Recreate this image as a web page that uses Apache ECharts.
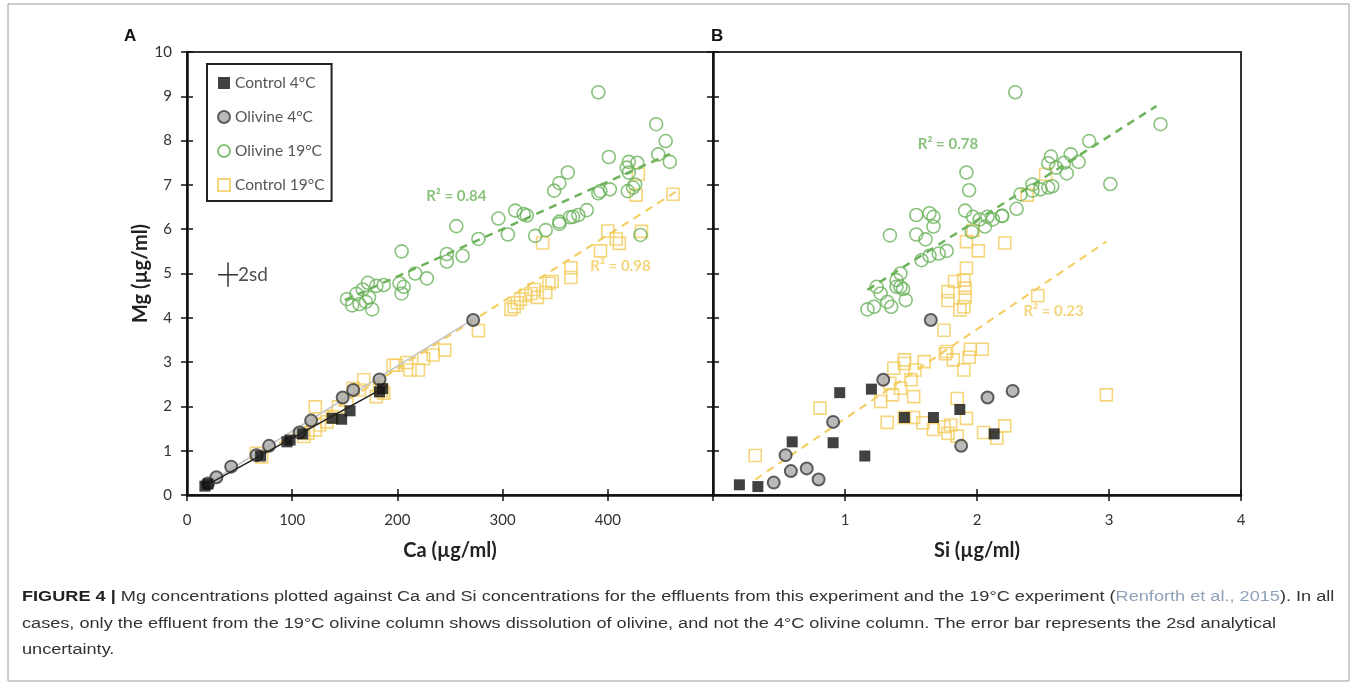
<!DOCTYPE html>
<html>
<head>
<meta charset="utf-8">
<script src="https://cdn.jsdelivr.net/npm/echarts@6/dist/echarts.min.js"></script>
<style>
  html, body { margin: 0; padding: 0; background: #fff; }
  #main { width: 1357px; height: 687px; }
</style>
</head>
<body>
<div id="main"></div>
<script>
// Panel A: Mg vs Ca  [Ca, Mg]
var caOlivine19 = [[391,9.09],[446,8.37],[455,7.99],[401,7.63],[448,7.69],[459,7.52],[420,7.52],[428,7.50],[418,7.39],[420,7.28],
  [426,7.01],[424,6.94],[419,6.86],[402,6.90],[391,6.81],[393,6.86],[362,7.28],[354,7.04],[349,6.87],[380,6.43],
  [372,6.32],[367,6.28],[364,6.27],[354,6.17],[354,6.12],[341,5.98],[331,5.85],[431,5.87],[320,6.34],[312,6.42],
  [323,6.31],[296,6.24],[305,5.88],[277,5.78],[256,6.07],[247,5.44],[262,5.40],[247,5.27],[204,5.50],[217,5.00],
  [228,4.89],[206,4.70],[204,4.55],[202,4.78],[187,4.74],[180,4.72],[172,4.79],[167,4.64],[161,4.54],[152,4.42],
  [157,4.28],[164,4.31],[170,4.36],[176,4.19],[173,4.46]];
var caControl19 = [[462,6.79],[429,7.24],[427,6.77],[432,5.95],[400,5.96],[408,5.78],[411,5.68],[393,5.51],[338,5.69],[365,5.13],
  [365,4.91],[347,4.82],[344,4.78],[341,4.57],[330,4.64],[327,4.55],[322,4.51],[333,4.46],[317,4.42],[314,4.34],
  [311,4.25],[308,4.19],[277,3.71],[245,3.27],[234,3.16],[225,3.08],[220,2.82],[212,2.82],[209,2.99],[199,2.93],
  [196,2.93],[168,2.60],[158,2.41],[187,2.30],[180,2.22],[122,1.99],[138,1.77],[133,1.65],[126,1.58],[122,1.47],
  [115,1.39],[111,1.32],[144,1.99],[152,2.14],[164,2.37],[71,0.86],[66,0.94],[185,2.35],[183,2.42]];
var caControl4 = [[17,0.20],[20,0.25],[70,0.88],[95,1.20],[98,1.24],[110,1.38],[138,1.73],[147,1.71],[155,1.90],[183,2.33],[186,2.40]];
var caOlivine4 = [[20,0.26],[28,0.40],[42,0.64],[66,0.90],[78,1.11],[107,1.41],[118,1.68],[148,2.20],[158,2.37],[183,2.61],[272,3.95]];

// trend lines panel A (end points)
var caFitOlivine19 = [[150,4.4],[459,7.7]];
var caFitControl19 = [[65,0.82],[465,6.85]];
var caFitOlivine4 = [[17,0.22],[272,3.97]];
var caFitControl4 = [[17,0.2],[187,2.42]];

// Panel B: Mg vs Si  [Si, Mg]
var siOlivine19 = [[2.29,9.09],[1.92,7.28],[1.94,6.88],[1.91,6.42],[1.54,6.32],[1.64,6.36],[1.67,6.28],[1.67,6.06],[1.34,5.86],[1.54,5.88],
  [1.61,5.77],[1.97,6.28],[2.02,6.22],[2.08,6.28],[2.12,6.22],[2.19,6.30],[2.06,6.06],[1.96,5.94],[1.77,5.51],[1.71,5.45],
  [1.64,5.40],[1.58,5.30],[1.42,5.00],[1.39,4.85],[1.42,4.70],[1.44,4.65],[1.39,4.70],[1.24,4.70],[1.27,4.55],[1.32,4.36],
  [1.35,4.25],[1.46,4.40],[1.22,4.25],[1.17,4.19],[3.39,8.37],[2.85,7.99],[2.71,7.69],[2.56,7.64],[2.77,7.52],[2.66,7.50],
  [2.54,7.49],[2.60,7.39],[2.68,7.26],[3.01,7.02],[2.57,6.97],[2.54,6.94],[2.48,6.90],[2.42,7.01],[2.42,6.87],[2.33,6.79],
  [2.30,6.46],[2.19,6.30]];
var siControl19 = [[1.97,5.97],[1.92,5.72],[2.01,5.51],[2.21,5.69],[1.92,5.12],[1.83,4.82],[1.90,4.85],[1.91,4.67],[1.78,4.59],[1.91,4.46],
  [1.78,4.39],[1.90,4.25],[1.87,4.18],[1.75,3.72],[2.52,7.24],[2.38,6.77],[2.46,4.50],[1.77,3.24],[1.76,3.19],[1.82,3.05],
  [1.95,3.29],[2.04,3.29],[1.94,3.11],[1.90,2.82],[1.60,3.01],[1.53,2.82],[1.45,3.05],[1.45,2.97],[1.37,2.86],[1.50,2.60],
  [1.42,2.41],[1.36,2.26],[1.27,2.11],[1.34,2.52],[1.52,2.22],[1.85,2.18],[1.92,1.73],[1.52,1.75],[1.59,1.63],[1.67,1.48],
  [1.75,1.54],[1.80,1.58],[1.78,1.39],[1.85,1.33],[1.32,1.64],[1.45,1.75],[0.81,1.96],[0.32,0.89],[2.05,1.41],[2.15,1.28],
  [2.21,1.56],[2.98,2.26]];
var siControl4 = [[0.20,0.23],[0.34,0.19],[0.60,1.20],[0.91,1.18],[0.96,2.31],[1.15,0.88],[1.20,2.39],[1.45,1.75],[1.67,1.75],[1.87,1.93],[2.13,1.38]];
var siOlivine4 = [[0.46,0.28],[0.55,0.90],[0.59,0.54],[0.71,0.60],[0.80,0.35],[0.91,1.65],[1.29,2.60],[1.65,3.95],[2.08,2.20],[2.27,2.35],[1.88,1.11]];

var siFitOlivine19 = [[1.17,4.63],[3.36,8.78]];
var siFitControl19 = [[0.32,0.35],[2.98,5.72]];

// 2sd error bar (Ca, Mg)
var errH = [[29.5,4.97],[48.5,4.97]];
var errV = [[39,4.70],[39,5.25]];

var seriesNames = ['Control 4°C', 'Olivine 4°C', 'Olivine 19°C', 'Control 19°C'];
var r2A = ['R² = 0.84', 'R² = 0.98'];
var r2B = ['R² = 0.78', 'R² = 0.23'];

var GREEN = '#6cb35c', YELLOW = '#f3cc5c', BLACK = '#111', GREY = '#a9a9a9';
var tickFont = { fontFamily: 'Lato', fontSize: 15, color: '#333' };
var titleFont = { fontFamily: 'Lato', fontSize: 20, fontWeight: 'bold', color: '#222' };

var chart = echarts.init(document.getElementById('main'));

function mkX(grid, max, outer, fmt) {
  return {
    type: 'value', gridIndex: grid, min: 0, max: max, interval: max > 10 ? 100 : 1,
    axisLine: { show: outer, lineStyle: { color: '#111', width: 2.5 } },
    axisTick: { show: true, inside: !outer, length: 6, lineStyle: { color: '#111', width: 1.5 } },
    axisLabel: outer ? Object.assign({ show: true, margin: 18, formatter: fmt }, tickFont) : { show: false },
    splitLine: { show: false }
  };
}
function mkY(grid, outer, labels) {
  return {
    type: 'value', gridIndex: grid, min: 0, max: 10, interval: 1,
    axisLine: { show: outer, lineStyle: { color: '#111', width: 2.5 } },
    axisTick: { show: true, inside: !outer, length: 6, lineStyle: { color: '#111', width: 1.5 } },
    axisLabel: labels ? Object.assign({ show: true, margin: 15 }, tickFont) : { show: false },
    splitLine: { show: false }
  };
}

function scatter(name, data, xi, kind, z) {
  var st = {
    c4: { symbol: 'rect', size: 11, item: { color: BLACK } },
    o4: { symbol: 'circle', size: 12, item: { color: GREY, borderColor: '#3a3a3a', borderWidth: 2 } },
    o19: { symbol: 'circle', size: 13, item: { color: 'rgba(255,255,255,0)', borderColor: GREEN, borderWidth: 1.6 } },
    c19: { symbol: 'rect', size: 12, item: { color: 'rgba(255,255,255,0)', borderColor: YELLOW, borderWidth: 1.6 } }
  }[kind];
  return { name: name, type: 'scatter', xAxisIndex: xi, yAxisIndex: xi, data: data,
    symbol: st.symbol, symbolSize: st.size, itemStyle: st.item, z: z, emphasis: { disabled: true } };
}
function fit(data, xi, color, width, dashed, z) {
  return { name: 'fit', type: 'line', xAxisIndex: xi, yAxisIndex: xi, data: data, symbol: 'none',
    lineStyle: { color: color, width: width, type: dashed ? [8, 6] : 'solid' }, z: z, silent: true };
}
function note(text, at, xi, color, extra) {
  return { name: 'note', type: 'scatter', xAxisIndex: xi, yAxisIndex: xi, data: [at], symbolSize: 0, silent: true, z: 10,
    label: Object.assign({ show: true, formatter: text, position: 'inside', color: color,
      fontFamily: 'Lato', fontSize: 15, fontWeight: 'bold' }, extra || {}) };
}
function captionLine(text, y, rich) {
  return { type: 'text', x: 22, y: y, scaleX: 1.17, silent: true,
    style: { text: text, font: '15.5px "Liberation Sans"', fill: '#333', verticalAlign: 'middle', rich: rich } };
}

chart.setOption({
  animation: false,
  backgroundColor: '#fff',
  grid: [
    { left: 187, top: 52, width: 526, height: 443, show: true, borderColor: '#333', borderWidth: 2 },
    { left: 713, top: 52, width: 528, height: 443, show: true, borderColor: '#333', borderWidth: 2 },
    { left: 187, top: 52, width: 526, height: 443 },
    { left: 713, top: 52, width: 528, height: 443 }
  ],
  xAxis: [
    Object.assign(mkX(0, 500, true, function (v) { return v === 500 ? '' : v; }), {
      name: 'Ca (µg/ml)', nameLocation: 'middle', nameGap: 46, nameTextStyle: titleFont }),
    Object.assign(mkX(1, 4, true, function (v) { return v === 0 ? '' : v; }), {
      name: 'Si (µg/ml)', nameLocation: 'middle', nameGap: 46, nameTextStyle: titleFont }),
    mkX(2, 500, false),
    mkX(3, 4, false)
  ],
  yAxis: [
    Object.assign(mkY(0, true, true), {
      name: 'Mg (µg/ml)', nameLocation: 'middle', nameGap: 27, nameTextStyle: titleFont }),
    mkY(1, true, false),
    mkY(2, false, false),
    mkY(3, false, false)
  ],
  legend: {
    data: seriesNames, orient: 'vertical', left: 207, top: 64,
    itemWidth: 12, itemHeight: 12, itemGap: 18,
    padding: [11, 7, 8, 10],
    borderColor: '#222', borderWidth: 2,
    textStyle: { fontFamily: 'Lato', fontSize: 15.5, color: '#555' },
    selectedMode: false
  },
  series: [
    scatter(seriesNames[3], caControl19, 0, 'c19', 2),
    scatter(seriesNames[2], caOlivine19, 0, 'o19', 3),
    fit(caFitControl19, 0, YELLOW, 2, true, 4),
    fit(caFitOlivine19, 0, GREEN, 2.5, true, 4),
    scatter(seriesNames[1], caOlivine4, 0, 'o4', 5),
    fit(caFitOlivine4, 0, '#c4c4c4', 1.5, false, 5),
    scatter(seriesNames[0], caControl4, 0, 'c4', 6),
    fit(caFitControl4, 0, '#222', 1.5, false, 7),

    scatter(seriesNames[3], siControl19, 1, 'c19', 2),
    scatter(seriesNames[2], siOlivine19, 1, 'o19', 3),
    fit(siFitControl19, 1, YELLOW, 2, true, 4),
    fit(siFitOlivine19, 1, GREEN, 2.5, true, 4),
    scatter(seriesNames[1], siOlivine4, 1, 'o4', 5),
    scatter(seriesNames[0], siControl4, 1, 'c4', 6),

    fit(errH, 0, '#333', 1.5, false, 8),
    fit(errV, 0, '#333', 1.5, false, 8),
    note('2sd', [48.5, 4.97], 0, '#222', { position: 'right', distance: 0, fontWeight: 'normal', fontSize: 19 }),
    note(r2A[0], [256, 6.75], 0, GREEN),
    note(r2A[1], [412, 5.17], 0, YELLOW),
    note(r2B[0], [1.78, 7.92], 1, GREEN),
    note(r2B[1], [2.58, 4.15], 1, YELLOW)
  ],
  graphic: [
    { type: 'rect', shape: { x: 8, y: 4, width: 1341, height: 677 }, style: { fill: null, stroke: '#9a9a9a', lineWidth: 1 }, silent: true },
    { type: 'text', left: 124, top: 28, style: { text: 'A', font: 'bold 17px "Liberation Sans"', fill: '#111' } },
    { type: 'text', left: 711, top: 28, style: { text: 'B', font: 'bold 17px "Liberation Sans"', fill: '#111' } },
    captionLine('{b|FIGURE 4 |} Mg concentrations plotted against Ca and Si concentrations for the effluents from this experiment and the 19°C experiment ({l|Renforth et al., 2015}). In all', 597,
      { b: { font: 'bold 15.5px "Liberation Sans"', fill: '#222' }, l: { font: '15.5px "Liberation Sans"', fill: '#8ea3b9' } }),
    captionLine('cases, only the effluent from the 19°C olivine column shows dissolution of olivine, and not the 4°C olivine column. The error bar represents the 2sd analytical', 624),
    captionLine('uncertainty.', 650)
  ]
});
</script>
</body>
</html>
